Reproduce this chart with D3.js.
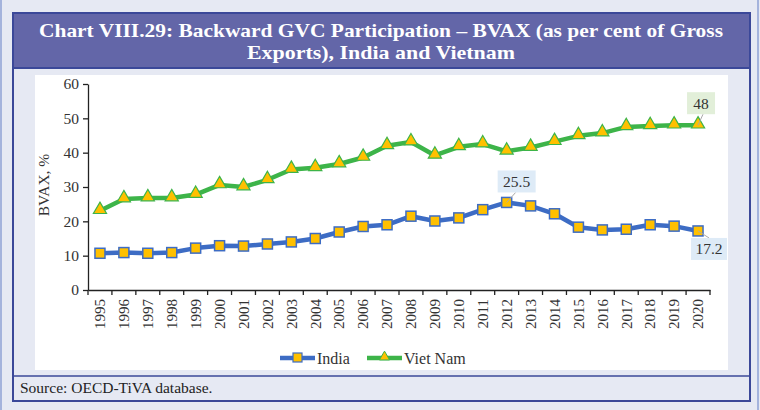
<!DOCTYPE html>
<html>
<head>
<meta charset="utf-8">
<script src="https://cdn.jsdelivr.net/npm/d3@7"></script>
<style>
  body { margin: 0; background: #e6e9f3; }
  svg { display: block; }
  text { font-family: "Liberation Serif", "DejaVu Serif", serif; }
</style>
</head>
<body>
<svg id="chart" width="760" height="410"></svg>
<script>
// values
const years = d3.range(1995, 2021).map(String);
const india = [10.7, 10.9, 10.7, 10.9, 12.2, 12.9, 12.8, 13.4, 14.0, 15.0, 16.9, 18.5, 19.0, 21.5, 20.1, 21.0, 23.4, 25.5, 24.5, 22.2, 18.3, 17.5, 17.7, 19.0, 18.6, 17.2];
const vietnam = [23.1, 26.5, 26.8, 26.8, 27.8, 30.6, 30.0, 32.1, 35.1, 35.6, 36.7, 38.6, 42.0, 43.1, 39.2, 41.7, 42.5, 40.4, 41.5, 43.2, 44.9, 45.7, 47.5, 47.8, 48.0, 48.0];
const yTicks = [0, 10, 20, 30, 40, 50, 60];
const titleLines = ["Chart VIII.29: Backward GVC Participation \u2013 BVAX (as per cent of Gross", "Exports), India and Vietnam"];
const sourceText = "Source: OECD-TiVA database.";
// callouts: series, year index, text
const callouts = [
  {series: "vn", i: 25, text: "48"},
  {series: "in", i: 17, text: "25.5"},
  {series: "in", i: 25, text: "17.2"}
];

const svg = d3.select('#chart');
const blue = '#3d6cc4', green = '#3db449', amber = '#ffc000', frame = '#3b4899';

// outer decoration: thin light lines at the page edges
svg.append('line').attr('x1', 1).attr('x2', 1).attr('y1', 0).attr('y2', 410).attr('stroke', '#8ea0d4').attr('stroke-width', 1.5);
svg.append('line').attr('x1', 758).attr('x2', 758).attr('y1', 0).attr('y2', 410).attr('stroke', '#8ea0d4').attr('stroke-width', 1.5);

// title band
svg.append('rect').attr('x', 13).attr('y', 13).attr('width', 737).attr('height', 55).attr('fill', '#6366a8');
const titleWidths = [684, 268]; // the reference face is narrower-bodied but wider set
svg.selectAll('.title').data(titleLines).join('text')
  .attr('class', 'title')
  .attr('x', 381).attr('y', (d, i) => 37 + i * 22)
  .attr('text-anchor', 'middle')
  .attr('textLength', (d, i) => titleWidths[i]).attr('lengthAdjust', 'spacingAndGlyphs')
  .attr('fill', '#fff').attr('font-weight', 'bold').attr('font-size', 19.5)
  .text(d => d);

// white plot panel
svg.append('rect').attr('x', 35).attr('y', 75).attr('width', 693).attr('height', 295).attr('fill', '#fff');

// frame lines
svg.append('rect').attr('x', 13).attr('y', 13).attr('width', 737).attr('height', 388)
  .attr('fill', 'none').attr('stroke', frame).attr('stroke-width', 2);
svg.append('line').attr('x1', 13).attr('x2', 750).attr('y1', 68).attr('y2', 68).attr('stroke', frame).attr('stroke-width', 2);
svg.append('line').attr('x1', 13).attr('x2', 750).attr('y1', 376).attr('y2', 376).attr('stroke', frame).attr('stroke-width', 1.5);

svg.append('text').attr('x', 20).attr('y', 393).attr('font-size', 15.5).attr('fill', '#222').text(sourceText);

// scales
const x = d3.scaleBand().domain(years).range([88, 710]);
const y = d3.scaleLinear().domain([0, 60]).range([290, 84]);
const cx = d => x(d) + x.bandwidth() / 2;

// y axis
const yAxis = svg.append('g').attr('transform', 'translate(88,0)')
  .call(d3.axisLeft(y).tickValues(yTicks).tickSize(5).tickSizeOuter(0));
yAxis.select('.domain').attr('stroke', '#222').attr('stroke-width', 1.3);
yAxis.selectAll('.tick line').attr('stroke', '#222').attr('stroke-width', 1.3);
yAxis.selectAll('.tick text').attr('font-family', '"Liberation Serif", serif').attr('font-size', 15.5).attr('fill', '#333').attr('x', -9);

svg.append('text')
  .attr('transform', 'translate(49,185) rotate(-90)')
  .attr('text-anchor', 'middle').attr('font-size', 15.5).attr('fill', '#333')
  .text('BVAX, %');

// x axis: ticks on band boundaries, labels rotated
const xAxis = svg.append('g').attr('transform', 'translate(0,290)')
  .call(d3.axisBottom(x).tickSize(0).tickSizeOuter(0));
xAxis.select('.domain').attr('stroke', '#222').attr('stroke-width', 1.3);
xAxis.selectAll('.tick text')
  .attr('font-family', '"Liberation Serif", serif').attr('font-size', 15).attr('fill', '#333')
  .attr('transform', 'rotate(-90)')
  .attr('text-anchor', 'end').attr('x', -9).attr('y', 0).attr('dy', '0.35em');
svg.append('g').selectAll('line').data(years.concat(['end'])).join('line')
  .attr('x1', (d, i) => x.range()[0] + i * x.step())
  .attr('x2', (d, i) => x.range()[0] + i * x.step())
  .attr('y1', 290).attr('y2', 295)
  .attr('stroke', '#222').attr('stroke-width', 1.3);

// lines
const line = d3.line().x((d, i) => cx(years[i])).y(d => y(d));
svg.append('path').datum(vietnam).attr('d', line).attr('fill', 'none').attr('stroke', green).attr('stroke-width', 4.5).attr('stroke-linejoin', 'round');
svg.append('path').datum(india).attr('d', line).attr('fill', 'none').attr('stroke', blue).attr('stroke-width', 4.5).attr('stroke-linejoin', 'round');

// markers
const tri = d3.symbol().type(d3.symbolTriangle).size(75);
svg.append('g').selectAll('path').data(vietnam).join('path')
  .attr('d', tri)
  .attr('transform', (d, i) => `translate(${cx(years[i])},${y(d) - 1})`)
  .attr('fill', amber).attr('stroke', green).attr('stroke-width', 1.2);
svg.append('g').selectAll('rect').data(india).join('rect')
  .attr('x', (d, i) => cx(years[i]) - 5).attr('y', d => y(d) - 5)
  .attr('width', 10).attr('height', 10)
  .attr('fill', amber).attr('stroke', blue).attr('stroke-width', 1.5);

// callouts (box offset from the point, and where the leader meets the box)
const boxes = {
  "48":   {dx: -11, dy: -33, w: 28, h: 22, fill: '#e2efd9', lx: 16, ly: 22},
  "25.5": {dx: -9, dy: -32, w: 38, h: 22, fill: '#deebf7', lx: 18, ly: 22},
  "17.2": {dx: -7, dy: 7, w: 36, h: 22, fill: '#deebf7', lx: 18, ly: 0}
};
callouts.forEach(c => {
  const v = c.series === 'vn' ? vietnam[c.i] : india[c.i];
  const px = cx(years[c.i]), py = y(v);
  const b = boxes[c.text];
  const bx = px + b.dx, by = py + b.dy;
  const g = svg.append('g');
  g.append('line').attr('x1', px).attr('y1', py).attr('x2', bx + b.lx).attr('y2', by + b.ly).attr('stroke', '#aaa').attr('stroke-width', 1);
  g.append('rect').attr('x', bx).attr('y', by).attr('width', b.w).attr('height', b.h).attr('fill', b.fill);
  g.append('text').attr('x', bx + b.w / 2).attr('y', by + b.h / 2).attr('dy', '0.35em')
    .attr('text-anchor', 'middle').attr('font-size', 15.5).attr('fill', '#333').text(c.text);
});

// legend
const legend = [
  {name: 'India', color: blue, x: 280, shape: 'sq'},
  {name: 'Viet Nam', color: green, x: 367, shape: 'tri'}
];
const lg = svg.append('g').selectAll('g').data(legend).join('g').attr('transform', d => `translate(${d.x},358)`);
lg.append('line').attr('x1', 0).attr('x2', 35).attr('stroke', d => d.color).attr('stroke-width', 4.5);
lg.filter(d => d.shape === 'sq').append('rect').attr('x', 13).attr('y', -5).attr('width', 9).attr('height', 9)
  .attr('fill', amber).attr('stroke', blue).attr('stroke-width', 1.2);
lg.filter(d => d.shape === 'tri').append('path').attr('d', d3.symbol().type(d3.symbolTriangle).size(45))
  .attr('transform', 'translate(17.5,-1)').attr('fill', amber).attr('stroke', green).attr('stroke-width', 1);
lg.append('text').attr('x', 37).attr('dy', '0.35em').attr('font-size', 16).attr('fill', '#333').text(d => d.name);
</script>
</body>
</html>
